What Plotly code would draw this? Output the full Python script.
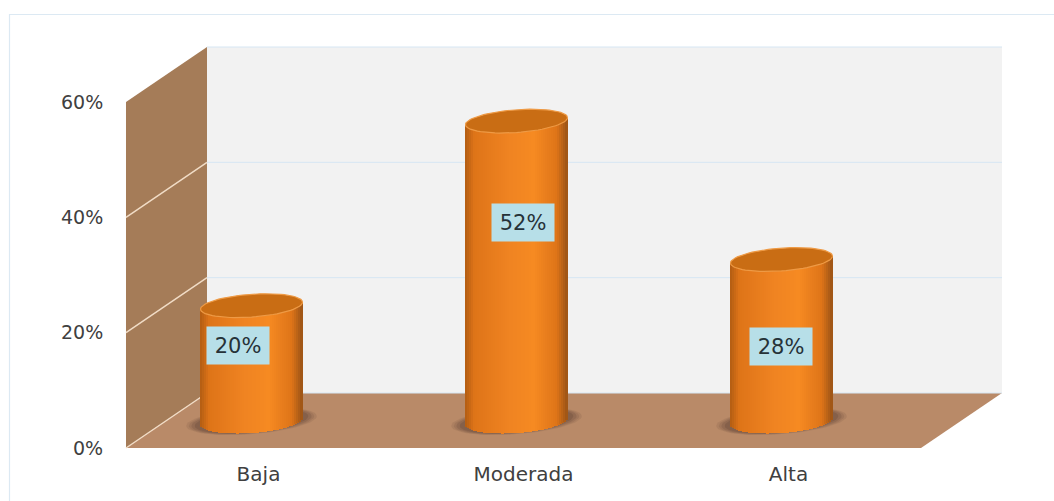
import numpy as np
import plotly.graph_objects as go

categories = ["Baja", "Moderada", "Alta"]
values = [20, 52, 28]
value_labels = ["20%", "52%", "28%"]
tick_values = [0, 20, 40, 60]
tick_labels = ["0%", "20%", "40%", "60%"]

W, H = 1054, 501
FX0, FX1, FY0, FY60 = 126, 921, 448, 102   # front plane of the 3-D box
DX, DY = 81, -55                            # depth offset of the back plane
BX, BY = -7, -27                            # offset of the columns' plane
PX_PER_UNIT = (FY0 - FY60) / 60
PX_PER_CAT = (FX1 - FX0) / 3
YMIN = -5

def px(x): return x / W
def py(y): return 1 - y / H
def tick_y(v): return FY0 - v * PX_PER_UNIT

shapes = []
def poly(points, fill, line="rgba(0,0,0,0)", width=0, layer="below"):
    d = "M" + " L".join(f"{px(a):.5f},{py(b):.5f}" for a, b in points) + " Z"
    return dict(type="path", xref="paper", yref="paper", path=d, fillcolor=fill,
                line=dict(color=line, width=width), layer=layer)
def seg(a, b, c, d, color, width=1):
    return dict(type="line", xref="paper", yref="paper", x0=px(a), y0=py(b), x1=px(c), y1=py(d),
                line=dict(color=color, width=width), layer="below")

shapes.append(dict(type="rect", xref="paper", yref="paper", x0=px(9.5), x1=px(1062), y0=py(14.5), y1=py(520),
                   fillcolor="#ffffff", line=dict(color="#dce9f3", width=1.2), layer="below"))
shapes.append(poly([(FX0+DX, tick_y(60)+DY), (FX1+DX, tick_y(60)+DY), (FX1+DX, tick_y(0)+DY), (FX0+DX, tick_y(0)+DY)], "#f2f2f2"))
shapes.append(poly([(FX0, tick_y(60)), (FX0+DX, tick_y(60)+DY), (FX0+DX, tick_y(0)+DY), (FX0, tick_y(0))], "#a57c58"))
shapes.append(poly([(FX0, FY0), (FX1, FY0), (FX1+DX, FY0+DY), (FX0+DX, FY0+DY)], "#b98a68"))
for v in tick_values:
    y = tick_y(v)
    shapes.append(seg(FX0+DX, y+DY, FX1+DX, y+DY, "#d6e6f3"))
    if v < 60:
        shapes.append(seg(FX0, y, FX0+DX, y+DY, "#f1dcc6", 1.5))

def mix(c0, c1, t):
    return "#%02x%02x%02x" % tuple(int(round(a + (b - a) * t)) for a, b in zip(c0, c1))

STOPS = [(-1.0, (178, 92, 18)), (-0.82, (222, 116, 24)), (-0.1, (240, 132, 34)),
         (0.35, (246, 138, 34)), (0.8, (222, 116, 24)), (1.0, (156, 84, 22))]
def shade(t):
    for (t0, c0), (t1, c1) in zip(STOPS, STOPS[1:]):
        if t <= t1:
            return mix(c0, c1, (t - t0) / (t1 - t0))
    return mix(STOPS[-1][1], STOPS[-1][1], 0)

COL_W = 102 / PX_PER_CAT          # column width in category units
SEMI_B = 12 / PX_PER_UNIT         # ellipse half height in value units
TILT = 3.5 / PX_PER_UNIT          # rise of the ellipse's right end
N = 51

def ellipse(cx, cy, a, b, tilt):
    t = np.linspace(0, 2 * np.pi, 73)
    xs = np.cos(t)
    return cx + a * xs, cy + b * np.sin(t) + tilt * xs

fig = go.Figure()

# floor shadows live on the front axes, so they stay under the columns' subplot
for i, v in enumerate(values):
    for scale, alpha in [(1.0, .10), (.96, .12), (.92, .15), (.87, .18)]:
        ex, ey = ellipse(i + BX / PX_PER_CAT, -BY / PX_PER_UNIT, COL_W * .64 * scale,
                         SEMI_B * 1.1 * scale, TILT * 1.4)
        fig.add_trace(go.Scatter(x=ex, y=ey, mode="lines", fill="toself",
                                 fillcolor=f"rgba(70,50,40,{alpha})", line=dict(width=0),
                                 hoverinfo="skip", showlegend=False))

# cylinder bodies: vertical strips through the bar scale
edges = np.linspace(-1, 1, N + 1)
mids = (edges[:-1] + edges[1:]) / 2
for i, v in enumerate(values):
    low = -SEMI_B * np.sqrt(1 - mids ** 2) + TILT * mids
    top = v + TILT * mids
    fig.add_trace(go.Bar(x=[i] * N, y=top - low, base=low,
                         offset=mids * COL_W / 2 - COL_W / N / 2 - 0.001,
                         width=[COL_W / N + 0.002] * N,
                         marker=dict(color=[shade(t) for t in mids], line=dict(width=0)),
                         xaxis="x2", yaxis="y2", hoverinfo="skip", showlegend=False))

# cylinder tops
for i, v in enumerate(values):
    ex, ey = ellipse(i, v, COL_W / 2, SEMI_B * .95, TILT)
    fig.add_trace(go.Scatter(x=ex, y=ey, xaxis="x2", yaxis="y2", mode="lines", fill="toself",
                             fillcolor="#c96d14", line=dict(color="#ee9a45", width=1.2),
                             hoverinfo="skip", showlegend=False))

label_px = [(238, 345), (522.5, 222.5), (780.5, 346.5)]
annotations = [dict(x=px(a), y=py(b), xref="paper", yref="paper", text=t, showarrow=False,
                    xanchor="center", yanchor="middle",
                    width=60, height=35, bgcolor="#b7dfe8", align="center", valign="middle",
                    font=dict(family="DejaVu Sans", size=21, color="#263238"))
               for (a, b), t in zip(label_px, value_labels)]

fig.update_layout(
    width=W, height=H, margin=dict(l=0, r=0, t=0, b=0), autosize=False,
    paper_bgcolor="#ffffff", plot_bgcolor="rgba(0,0,0,0)", barmode="overlay", bargap=0,
    shapes=shapes, annotations=annotations, showlegend=False,
    font=dict(family="DejaVu Sans", color="#404040"),
    xaxis=dict(domain=[px(FX0), px(FX1)], range=[-0.5, 2.5], tickvals=[0, 1, 2], ticktext=categories,
               showgrid=False, zeroline=False, showline=False, ticks="outside", ticklen=8,
               tickcolor="rgba(0,0,0,0)", tickfont=dict(size=20), anchor="y", fixedrange=True,
               automargin=False),
    yaxis=dict(domain=[py(FY0), py(FY60)], range=[0, 60], tickvals=tick_values, ticktext=tick_labels,
               showgrid=False, zeroline=False, showline=False, ticks="outside", ticklen=18,
               tickcolor="rgba(0,0,0,0)", tickfont=dict(size=19), anchor="x", fixedrange=True,
               automargin=False),
    xaxis2=dict(domain=[px(FX0 + BX), px(FX1 + BX)], range=[-0.5, 2.5], visible=False,
                anchor="y2", fixedrange=True, automargin=False),
    yaxis2=dict(domain=[py(FY0 + BY - YMIN * PX_PER_UNIT), py(FY60 + BY)], range=[YMIN, 60], visible=False,
                anchor="x2", fixedrange=True, automargin=False),
)
fig.write_html("out.html", config=dict(displayModeBar=False),
               post_script="document.body.style.margin='0';")
